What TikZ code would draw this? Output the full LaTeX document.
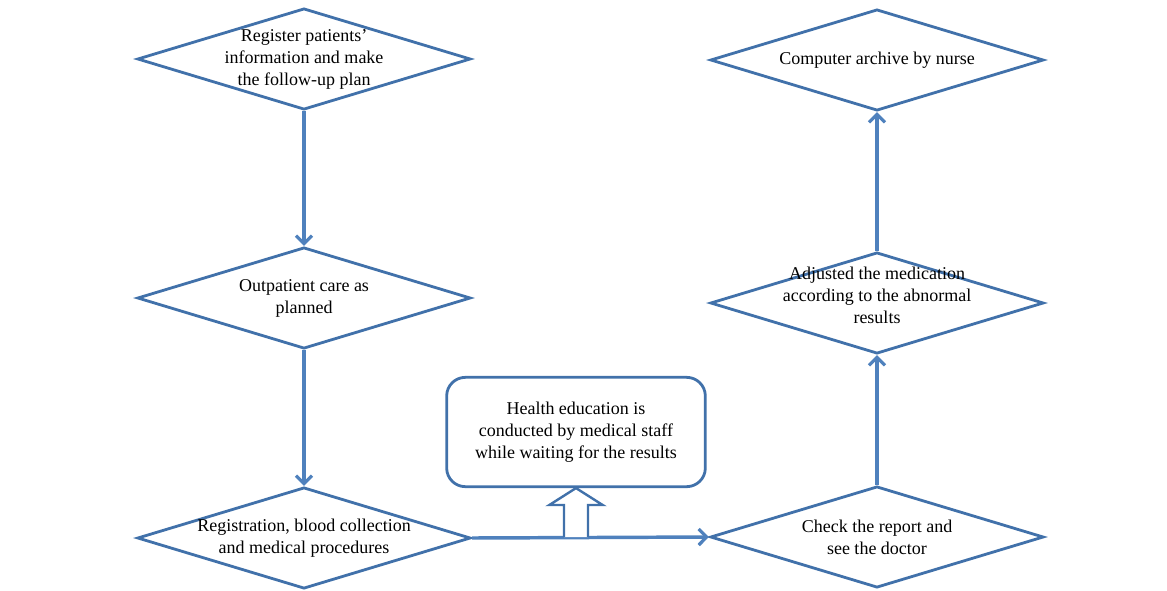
\documentclass[tikz,border=0pt]{standalone}
\usepackage{fontspec}
\setmainfont{Liberation Serif}
\usetikzlibrary{shapes.geometric,arrows.meta}
\definecolor{bord}{RGB}{65,113,170}
\definecolor{arr}{RGB}{79,129,189}
\tikzset{
  x=0.75pt, y=-0.75pt,
  dia/.style={diamond, draw=bord, line width=2.1pt, minimum width=250pt, minimum height=76pt, inner sep=0pt},
  txt/.style={align=center, font=\fontsize{13.5}{16.5}\selectfont},
  conn/.style={draw=arr, line width=2.6pt, -{Straight Barb[length=6pt,width=12pt,line width=2.4pt]}},
  rbox/.style={draw=bord, line width=2.1pt, rounded corners=14pt, minimum width=194pt, minimum height=82pt, inner sep=0pt}
}
\begin{document}
\begin{tikzpicture}
\useasboundingbox (0,0) rectangle (1167,590);
\node[dia, label={[txt]center:Register patients'\\information and make\\the follow-up plan}] (d1) at (304,59) {};
\node[dia, label={[txt]center:Outpatient care as\\planned}] (d2) at (304,298) {};
\node[dia, label={[txt]center:Registration, blood collection\\and medical procedures}] (d3) at (304,538) {};
\node[dia, label={[txt]center:Check the report and\\see the doctor}] (d4) at (877,537) {};
\node[dia, label={[txt,yshift=6pt]center:Adjusted the medication\\according to the abnormal\\results}] (d5) at (877,303) {};
\node[dia, label={[txt]center:Computer archive by nurse}] (d6) at (877,60) {};
\node[rbox, txt] (hb) at (576,432) {Health education is\\conducted by medical staff\\while waiting for the results};
\draw[conn] (d1.south) -- (d2.north);
\draw[conn] (d2.south) -- (d3.north);
\draw[conn] (d3.east) -- (d4.west);
\draw[conn] (d4.north) -- (d5.south);
\draw[conn] (d5.north) -- (d6.south);
\coordinate (ab) at (576,537);
\draw[draw=bord, fill=white, line width=1.8pt, line join=miter]
  ([xshift=-9]ab) -- ([xshift=-9]ab |- 0,505) -- ([xshift=-20]ab |- 0,505) -- (hb.south)
  -- ([xshift=20]ab |- 0,505) -- ([xshift=9]ab |- 0,505) -- ([xshift=9]ab) ;
\end{tikzpicture}
\end{document}
